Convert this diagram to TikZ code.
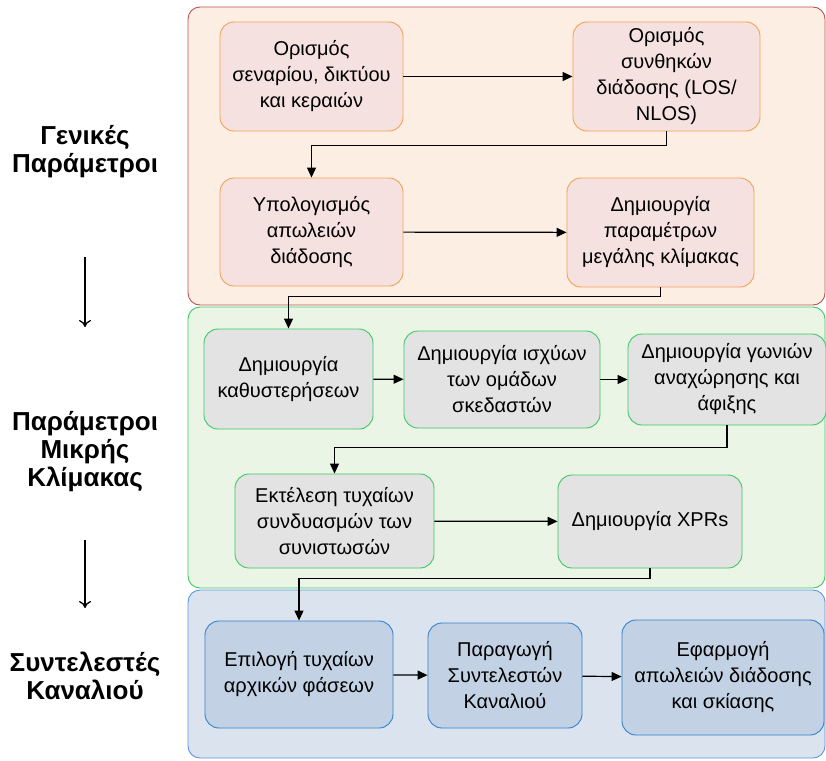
\documentclass[tikz,border=0pt]{standalone}
\usepackage{fontspec}
\setmainfont{Liberation Sans}
\usetikzlibrary{arrows.meta,positioning}

\definecolor{genfill}{RGB}{253,238,228}
\definecolor{genline}{RGB}{184,84,80}
\definecolor{genbox}{RGB}{245,226,224}
\definecolor{genboxline}{RGB}{245,160,80}
\definecolor{smfill}{RGB}{234,245,229}
\definecolor{smline}{RGB}{60,200,100}
\definecolor{smbox}{RGB}{227,227,227}
\definecolor{chfill}{RGB}{219,227,239}
\definecolor{chline}{RGB}{90,150,220}
\definecolor{chbox}{RGB}{194,210,228}
\definecolor{chboxline}{RGB}{50,130,205}

\begin{document}
\begin{tikzpicture}[x=1pt, y=-1pt,
  zone/.style={rectangle, rounded corners=12pt, line width=0.9pt, inner sep=0pt},
  genstep/.style={draw=genboxline, fill=genbox, rectangle, rounded corners=14pt,
    line width=0.9pt, align=center, inner sep=0pt,
    font=\fontsize{20}{26}\selectfont},
  smstep/.style={genstep, draw=smline, fill=smbox},
  chstep/.style={genstep, draw=chboxline, fill=chbox},
  tier/.style={align=center, font=\fontsize{26}{28}\selectfont\bfseries},
  ar/.style={-{Triangle[length=10pt, width=9pt]}, line width=1.2pt},
  tierar/.style={-{To[length=7pt, width=12pt]}, line width=1.3pt},
]
\useasboundingbox (0,0) rectangle (826,760);

%── Zones ─────────────────────────────────────────────────────────────────────

\node[zone, draw=genline, fill=genfill, minimum width=637pt, minimum height=298pt]
  (genzone) at (506.5,156) {};
\node[zone, draw=smline, fill=smfill, minimum width=637pt, minimum height=281pt]
  (smzone) at (506.5,447.5) {};
\node[zone, draw=chline, fill=chfill, minimum width=637pt, minimum height=168pt]
  (chzone) at (506.5,674) {};

%── Left labels ───────────────────────────────────────────────────────────────

\node[tier] (tgen) at (85,152) {Γενικές\\Παράμετροι};
\node[tier] (tsm)  at (85,452) {Παράμετροι\\Μικρής\\Κλίμακας};
\node[tier] (tch)  at (85,676) {Συντελεστές\\Καναλιού};

\coordinate (a1) at (85,257);
\coordinate (a2) at (85,327);
\coordinate (a3) at (85,540);
\coordinate (a4) at (85,608);
\draw[tierar] (a1) -- (a2);
\draw[tierar] (a3) -- (a4);

%── Large scale ───────────────────────────────────────────────────────────────

\node[genstep, minimum width=183pt, minimum height=109pt] (scenario) at (311.5,76.5)
  {Ορισμός\\σεναρίου, δικτύου\\και κεραιών};
\node[genstep, minimum width=187pt, minimum height=109pt] (conditions) at (666.5,76.5)
  {Ορισμός\\συνθηκών\\διάδοσης (LOS/\\NLOS)};
\node[genstep, minimum width=183pt, minimum height=108pt] (pathloss) at (311.5,232)
  {Υπολογισμός\\απωλειών\\διάδοσης};
\node[genstep, minimum width=187pt, minimum height=109pt] (lsp) at (660.5,232.5)
  {Δημιουργία\\παραμέτρων\\μεγάλης κλίμακας};

\draw[ar] (scenario) -- (conditions);
\draw[ar] (conditions.south) -- ++(0,14) -| (pathloss.north);
\draw[ar] (pathloss) -- (lsp);

%── Small scale ───────────────────────────────────────────────────────────────

\node[smstep, minimum width=169pt, minimum height=100pt] (delays) at (288.5,379)
  {Δημιουργία\\καθυστερήσεων};
\node[smstep, minimum width=196pt, minimum height=97pt] (powers) at (502,379.5)
  {Δημιουργία ισχύων\\των ομάδων\\σκεδαστών};
\node[smstep, minimum width=198pt, minimum height=91pt] (angles) at (727,379.5)
  {Δημιουργία γωνιών\\αναχώρησης και\\άφιξης};
\node[smstep, minimum width=199pt, minimum height=94pt] (coupling) at (334.5,521)
  {Εκτέλεση τυχαίων\\συνδυασμών των\\συνιστωσών};
\node[smstep, minimum width=184pt, minimum height=93pt] (xpr) at (650,521.5)
  {Δημιουργία XPRs};

\draw[ar] (lsp.south) -- ++(0,9) -| (delays.north);
\draw[ar] (delays) -- (powers);
\draw[ar] (powers) -- (angles);
\draw[ar] (angles.south) -- ++(0,22) -| (coupling.north);
\draw[ar] (coupling) -- (xpr);

%── Channel coefficients ──────────────────────────────────────────────────────

\node[chstep, minimum width=188pt, minimum height=107pt] (phases) at (299,674.5)
  {Επιλογή τυχαίων\\αρχικών φάσεων};
\node[chstep, minimum width=154pt, minimum height=105pt] (coeffs) at (505,675.5)
  {Παραγωγή\\Συντελεστών\\Καναλιού};
\node[chstep, minimum width=202pt, minimum height=115pt] (shadow) at (723,677.5)
  {Εφαρμογή\\απωλειών διάδοσης\\και σκίασης};

\draw[ar] (xpr.south) -- ++(0,10) -| (phases.north);
\draw[ar] (phases) -- (coeffs);
\draw[ar] (coeffs) -- (shadow);

\end{tikzpicture}
\end{document}
